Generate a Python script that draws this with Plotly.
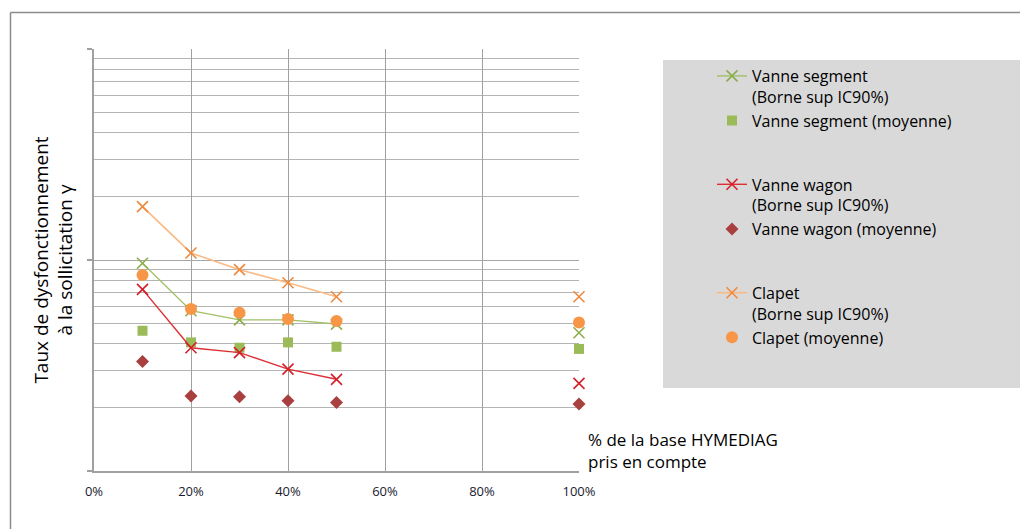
import plotly.graph_objects as go

# ---- data ----
pct_base = [0.1, 0.2, 0.3, 0.4, 0.5, 1.0]
x_ticks = [0, 0.2, 0.4, 0.6, 0.8, 1.0]
x_tick_labels = ["0%", "20%", "40%", "60%", "80%", "100%"]

segment_sup = [0.00965, 0.00575, 0.00520, 0.00520, 0.00497, 0.00452]
segment_moy = [0.00462, 0.00407, 0.00384, 0.00407, 0.00388, 0.00379]
wagon_sup = [0.00726, 0.00384, 0.00364, 0.00304, 0.00272, 0.00260]
wagon_moy = [0.00330, 0.00227, 0.00225, 0.00215, 0.00211, 0.00208]
clapet_sup = [0.0179, 0.0108, 0.0090, 0.0078, 0.0067, 0.0067]
clapet_moy = [0.00849, 0.00586, 0.00563, 0.00525, 0.00514, 0.00505]


def with_gap(values):
    # the last value (100 %) is not joined to the others
    return list(values[:5]) + [None] + list(values[5:])


FONT = "Open Sans"
fig = go.Figure()

series = [
    ("seg", "Vanne segment<br>(Borne sup IC90%)", segment_sup, "lines+markers",
     dict(color="#A3C068", width=1.4),
     dict(symbol="x-thin", size=11, line=dict(width=1.6, color="#8AAE4C"), color="#8AAE4C")),
    ("seg", "Vanne segment (moyenne)", segment_moy, "markers", None,
     dict(symbol="square", size=10, color="#9BBB59")),
    ("wag", "Vanne wagon<br>(Borne sup IC90%)", wagon_sup, "lines+markers",
     dict(color="#DC3036", width=1.4),
     dict(symbol="x-thin", size=11, line=dict(width=1.6, color="#D4202A"), color="#D4202A")),
    ("wag", "Vanne wagon (moyenne)", wagon_moy, "markers", None,
     dict(symbol="diamond", size=10, color="#A8403F")),
    ("cla", "Clapet<br>(Borne sup IC90%)", clapet_sup, "lines+markers",
     dict(color="#FBBA84", width=1.6),
     dict(symbol="x-thin", size=11, line=dict(width=1.6, color="#EE8A3E"), color="#EE8A3E")),
    ("cla", "Clapet (moyenne)", clapet_moy, "markers", None,
     dict(symbol="circle", size=12, color="#F79646")),
]

for grp, name, vals, mode, line, marker in series:
    kw = dict(
        x=with_gap(pct_base), y=with_gap(vals), name=name, mode=mode,
        legendgroup=grp, marker=marker, connectgaps=False, cliponaxis=False,
    )
    if line is not None:
        kw["line"] = line
    fig.add_trace(go.Scatter(**kw))

# page offset of the figure (default body margin)
OFF = 8
W, H = 1028, 529
# plot area in page pixels: x 94..579, y 49..471
L, R, T, B = 94 - OFF, 579 - OFF, 49 - OFF, 471 - OFF


def px(x):
    return (x - OFF - L) / (R - L)


def py(y):
    return (B - (y - OFF)) / (B - T)


shapes = [
    # grey legend panel
    dict(type="rect", xref="paper", yref="paper", layer="below",
         x0=px(663), x1=px(1025), y0=py(388), y1=py(60),
         fillcolor="#D9D9D9", line=dict(width=0)),
    # outer chart border (top and left visible)
    dict(type="line", xref="paper", yref="paper",
         x0=px(10.5), x1=px(1050), y0=py(12.5), y1=py(12.5),
         line=dict(color="#8C8C8C", width=1.5)),
    dict(type="line", xref="paper", yref="paper",
         x0=px(10.5), x1=px(10.5), y0=py(12.5), y1=py(560),
         line=dict(color="#8C8C8C", width=1.5)),
]

fig.update_layout(
    width=W, height=H,
    margin=dict(l=L, r=W - R, t=T, b=H - B, autoexpand=False),
    paper_bgcolor="white", plot_bgcolor="white",
    font=dict(family=FONT, color="#000000"),
    shapes=shapes,
    showlegend=True,
    legend=dict(
        x=px(712), y=py(59), xanchor="left", yanchor="top",
        bgcolor="rgba(0,0,0,0)", borderwidth=0,
        font=dict(family=FONT, size=16, color="#000000"),
        traceorder="grouped", tracegroupgap=40, valign="top",
        itemwidth=30,
    ),
    annotations=[
        dict(text="% de la base HYMEDIAG<br>pris en compte", xref="paper", yref="paper",
             x=px(586), y=py(450), xanchor="left", yanchor="middle", align="left",
             showarrow=False, font=dict(family=FONT, size=17, color="#000000")),
    ],
)

fig.update_xaxes(
    range=[0, 1], tickvals=x_ticks, ticktext=x_tick_labels,
    showgrid=True, gridcolor="#A0A0A0", gridwidth=1.3,
    showline=True, linecolor="#A0A0A0", linewidth=2,
    ticks="", zeroline=False, ticklabelstandoff=7,
    tickfont=dict(family=FONT, size=13, color="#1A1A2E"),
)

fig.update_yaxes(
    type="log", range=[-3, -1], dtick=1,
    showticklabels=False,
    showgrid=True, gridcolor="#A6A6A6", gridwidth=1.2,
    minor=dict(dtick="D1", showgrid=True, gridcolor="#B4B4B4", gridwidth=1, ticks=""),
    showline=True, linecolor="#A0A0A0", linewidth=2,
    ticks="outside", ticklen=5, tickcolor="#A0A0A0", tickwidth=1.5,
    zeroline=False,
    title=dict(text="Taux de dysfonctionnement<br>à la sollicitation γ",
               font=dict(family=FONT, size=19, color="#000000"), standoff=9),
)

fig.write_html("out.html")
